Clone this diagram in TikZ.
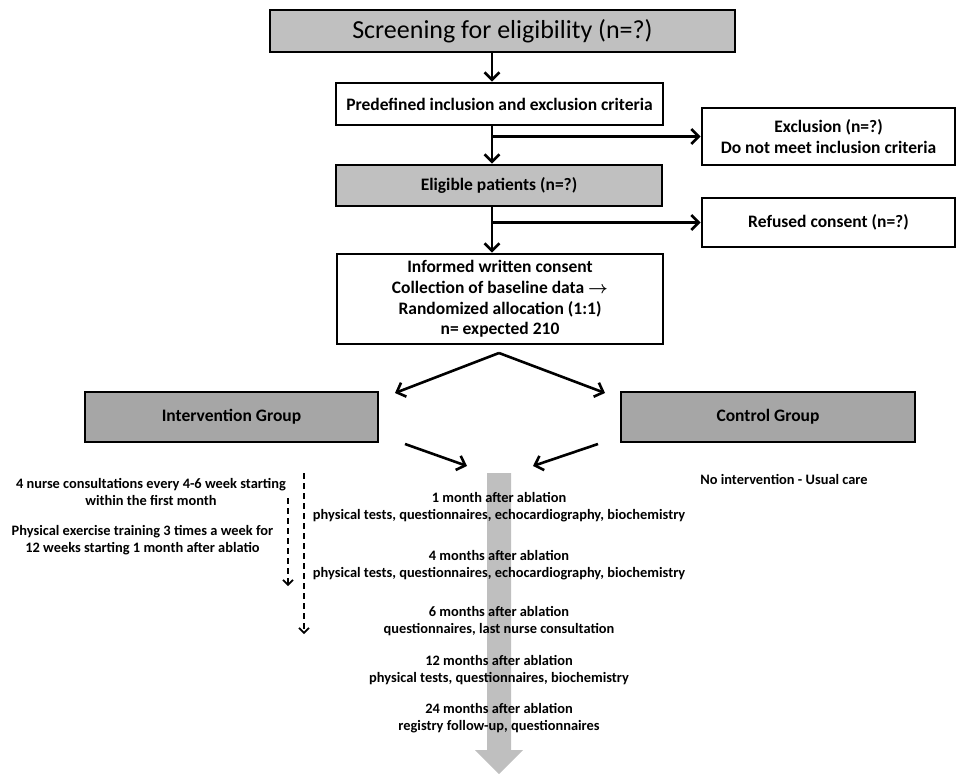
\documentclass[tikz,border=0pt]{standalone}
\usepackage{xcolor}
\usepackage{amsmath}
\usepackage{fontspec}
\setmainfont{Carlito}
\usepackage{tikz}
\usetikzlibrary{arrows.meta}
\usetikzlibrary{positioning}
\definecolor{lightbox}{RGB}{192,192,192}
\definecolor{darkbox}{RGB}{166,166,166}
\definecolor{timeline}{RGB}{191,191,191}
\tikzset{
plain box/.style = { rectangle, draw = black, line width = 2.8pt, fill = white, align = center, font = \fontsize{17.5}{20.7}\selectfont\bfseries, inner sep = 0pt },
grey box/.style = { plain box, fill = lightbox },
group box/.style = { plain box, fill = darkbox },
flow/.style = { draw = black, line width = 2.6pt, -{Straight Barb[length = 7.5pt, width = 15pt]} },
dash flow/.style = { draw = black, line width = 1.6pt, dash pattern = on 6pt off 4pt, -{Straight Barb[length = 5pt, width = 10pt]} },
visit/.style = { align = center, font = \fontsize{14.4}{17}\selectfont\bfseries, inner sep = 0pt },
}

\begin{document}
\begin{tikzpicture}[x = 1pt, y = -1pt]
    \useasboundingbox (0, 0) rectangle (959, 774);
    \coordinate (sp) at (492, 0);
    \node[grey box, minimum width = 465pt, minimum height = 42pt, font = \fontsize{26}{30}\selectfont] (screen) at (502.5, 31) {Screening for eligibility (n=?)};
    \node[plain box, minimum width = 327pt, minimum height = 42pt] (crit) at (499.5, 104) {Predefined inclusion and exclusion criteria};
    \node[grey box, minimum width = 326pt, minimum height = 41pt] (elig) at (499, 185.5) {Eligible patients (n=?)};
    \node[plain box, minimum width = 253pt, minimum height = 57pt] (excl) at (828.5, 136.5) {Exclusion (n=?)\\Do not meet inclusion criteria};
    \node[plain box, minimum width = 253pt, minimum height = 49pt] (refuse) at (828.5, 222.5) {Refused consent (n=?)};
    \node[plain box, minimum width = 326pt, minimum height = 90pt] (consent) at (500, 299) {Informed written consent\\Collection of baseline data $\boldsymbol{\rightarrow}$\\Randomized allocation (1:1)\\n= expected 210};
    \node[group box, minimum width = 293pt, minimum height = 50pt] (interv) at (231.5, 417) {Intervention Group};
    \node[group box, minimum width = 294pt, minimum height = 50pt] (control) at (768, 417) {Control Group};
    % main flow
    \draw[flow] (screen.south -| sp) -- (crit.north -| sp);
    \draw[flow] (crit.south -| sp) -- (elig.north -| sp);
    \draw[flow] (sp |- excl.west) -- (excl.west);
    \draw[flow] (elig.south -| sp) -- (consent.north -| sp);
    \draw[flow] (sp |- refuse.west) -- (refuse.west);
    % randomisation
    \coordinate (split) at (499, 353);
    \coordinate (splitL) at (395, 393);
    \coordinate (splitR) at (605, 393);
    \draw[flow] (split) -- (splitL);
    \draw[flow] (split) -- (splitR);
    \coordinate (joinL) at (405, 444);
    \coordinate (joinR) at (598, 444);
    \coordinate (inL) at (467, 466);
    \coordinate (inR) at (533, 466);
    \draw[flow] (joinL) -- (inL);
    \draw[flow] (joinR) -- (inR);
    % follow-up time line
    \fill[timeline] (487, 473) -- (511, 473) -- (511, 750) -- (523, 750) -- (499, 774) -- (475, 750) -- (487, 750) -- cycle;
    \node[visit] (m1) at (499, 507.5) {1 month after ablation\\physical tests, questionnaires, echocardiography, biochemistry};
    \node[visit] (m4) at (499, 565.5) {4 months after ablation\\physical tests, questionnaires, echocardiography, biochemistry};
    \node[visit] (m6) at (499, 621.5) {6 months after ablation\\questionnaires, last nurse consultation};
    \node[visit] (m12) at (499, 670) {12 months after ablation\\physical tests, questionnaires, biochemistry};
    \node[visit] (m24) at (499, 718.5) {24 months after ablation\\registry follow-up, questionnaires};
    % intervention arm
    \node[visit] (nurse) at (151, 491.5) {4 nurse consultations every 4-6 week starting\\within the first month};
    \node[visit] (train) at (142.5, 540.5) {Physical exercise training 3 times a week for\\12 weeks starting 1 month after ablatio};
    \coordinate (trainA) at (288, 498);
    \coordinate (trainB) at (288, 586);
    \coordinate (nurseA) at (304, 473);
    \coordinate (nurseB) at (304, 634);
    \draw[dash flow] (trainA) -- (trainB);
    \draw[dash flow] (nurseA) -- (nurseB);
    % control arm
    \node[visit] (usual) at (784, 479) {No intervention - Usual care};
\end{tikzpicture}
\end{document}
